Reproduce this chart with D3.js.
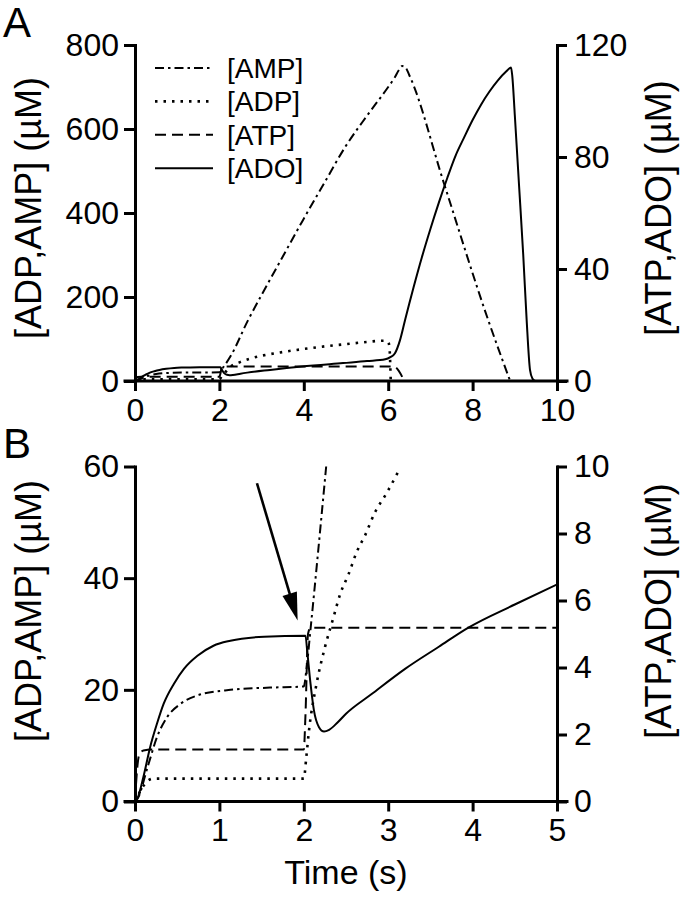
<!DOCTYPE html>
<html><head><meta charset="utf-8">
<script src="https://cdn.jsdelivr.net/npm/d3@7"></script>
<style>
body{margin:0;background:#fff}
svg{display:block}
text{font-family:"Liberation Sans",Arial,Helvetica,sans-serif;fill:#000}
</style>
</head><body>
<svg id="c" width="690" height="900"></svg>
<script>
// ---------------- DATA ----------------
const panelLabels = ["A", "B"];
const legendLabels = ["[AMP]", "[ADP]", "[ATP]", "[ADO]"];
const leftTitle = "[ADP,AMP] (\u00b5M)";
const rightTitle = "[ATP,ADO] (\u00b5M)";
const xTitle = "Time (s)";

const xTicksA = [0, 2, 4, 6, 8, 10];
const yLeftTicksA = [0, 200, 400, 600, 800];
const yRightTicksA = [0, 40, 80, 120];
const xTicksB = [0, 1, 2, 3, 4, 5];
const yLeftTicksB = [0, 20, 40, 60];
const yRightTicksB = [0, 2, 4, 6, 8, 10];

// Panel A  [time s, concentration uM]
const ampA = [[0,0],[0.15,6],[0.3,12],[0.5,16.5],[0.75,19],[1.1,20],[2.0,20.6],[2.08,31],[2.27,60],[2.68,145],[3.0,205],[3.5,296],[3.98,383],[4.5,474],[4.98,557],[5.5,632],[6.0,700],[6.15,722],[6.25,740],[6.33,750],[6.4,748],[6.5,728],[7.32,471],[8.37,145],[8.89,0]];
const adpA = [[0,0],[0.1,2.8],[0.22,4.1],[2.0,4.1],[2.06,12.5],[2.15,22],[2.25,33],[2.49,45],[2.72,53],[3.04,61],[3.44,68],[3.83,74],[4.22,79],[4.62,84],[4.93,87],[5.4,92],[5.92,96],[6.0,93],[6.03,80],[6.06,0]];
const atpA = [[0,0],[0.03,1.0],[0.06,1.45],[0.15,1.55],[2.0,1.55],[2.03,3],[2.06,5.19],[6.1,5.19],[6.16,5.0],[6.38,0]];
const adoA = [[0,0],[0.1,0.74],[0.18,1.63],[0.26,2.32],[0.34,2.92],[0.46,3.51],[0.58,3.96],[0.74,4.35],[0.93,4.65],[1.13,4.8],[1.53,4.92],[2.02,4.95],[2.04,4.5],[2.08,3.5],[2.12,2.72],[2.18,2.22],[2.24,2.09],[2.32,2.17],[2.5,2.62],[3.2,3.96],[3.95,5.19],[4.93,6.4],[5.5,7.1],[5.93,7.75],[6.05,8.5],[6.16,9.9],[6.28,14.6],[6.4,21.8],[6.5,27.7],[6.6,33.4],[6.8,44.3],[7.0,54.3],[7.2,63.7],[7.4,72.5],[7.6,80.6],[7.8,87.0],[8.0,93.2],[8.2,98.7],[8.4,103.4],[8.6,107.4],[8.8,110.6],[8.91,112],[8.94,109],[9.0,95],[9.1,70],[9.2,45],[9.28,22],[9.36,4],[9.42,0.8],[9.48,0]];

// Panel B
const ampB = [[0,0],[0.03,0.5],[0.15,6.2],[0.26,11.5],[0.38,15.1],[0.54,17.5],[0.74,19],[1.13,20],[1.6,20.4],[2.0,20.6],[2.03,23.5],[2.08,30.9],[2.265,60]];
const adpB = [[0,0],[0.05,1.5],[0.1,2.8],[0.15,3.7],[0.22,4.1],[1.0,4.1],[2.0,4.1],[2.03,8],[2.06,12.5],[2.15,21],[2.25,27.6],[2.35,32.9],[2.43,37.1],[2.53,40.7],[2.63,44.8],[2.73,47.8],[2.84,51.7],[2.98,55.2],[3.12,59.1]];
const atpB = [[0,0],[0.02,0.8],[0.05,1.4],[0.1,1.52],[0.2,1.55],[2.0,1.55],[2.02,2.6],[2.05,5.0],[2.08,5.19],[5,5.19]];
const adoB = [[0,0],[0.03,0.1],[0.1,0.74],[0.18,1.63],[0.26,2.32],[0.34,2.92],[0.46,3.51],[0.58,3.96],[0.74,4.35],[0.93,4.65],[1.13,4.8],[1.53,4.92],[2.02,4.95],[2.04,4.5],[2.08,3.51],[2.12,2.72],[2.18,2.22],[2.24,2.09],[2.3,2.14],[2.4,2.36],[2.5,2.62],[2.8,3.2],[3.2,3.96],[3.6,4.62],[3.95,5.19],[4.5,5.88],[5,6.48]];

// arrow annotation in panel B (data units: time, left-axis uM)
const arrowB = [[1.445, 57], [1.927, 32.4]];

// ---------------- DRAW ----------------
const svg = d3.select("#c");
const styles = {
  amp: {dash: "9,4,2.5,4", w: 2},
  adp: {dash: "2.5,6", w: 2.6},
  atp: {dash: "11,6", w: 2},
  ado: {dash: null, w: 2}
};

function panel(cfg) {
  const g = svg.append("g");
  const x = d3.scaleLinear().domain(cfg.xDom).range([135, 557]);
  const yL = d3.scaleLinear().domain(cfg.yLDom).range([cfg.y0, cfg.y1]);
  const yR = d3.scaleLinear().domain(cfg.yRDom).range([cfg.y0, cfg.y1]);
  const clipId = "clip" + cfg.label;
  svg.append("clipPath").attr("id", clipId).append("rect")
    .attr("x", 135).attr("y", cfg.y1 - 1).attr("width", 422).attr("height", cfg.y0 - cfg.y1 + 1);

  const series = [
    {d: cfg.amp, s: styles.amp, y: yL},
    {d: cfg.adp, s: styles.adp, y: yL},
    {d: cfg.atp, s: styles.atp, y: yR},
    {d: cfg.ado, s: styles.ado, y: yR}
  ];
  const lg = g.append("g").attr("clip-path", `url(#${clipId})`);
  series.forEach(se => {
    const line = d3.line().x(d => x(d[0])).y(d => se.y(d[1])).curve(d3.curveMonotoneX);
    lg.append("path").attr("d", line(se.d)).attr("fill", "none").attr("stroke", "#000")
      .attr("stroke-width", se.s.w).attr("stroke-dasharray", se.s.dash)
      .attr("stroke-linejoin", "round");
  });

  // axes
  const ax = g.append("g").attr("transform", `translate(0,${cfg.y0})`)
    .call(d3.axisBottom(x).tickValues(cfg.xTicks).tickSize(10).tickPadding(7).tickSizeOuter(0).tickFormat(d3.format("d")));
  const al = g.append("g").attr("transform", `translate(135,0)`)
    .call(d3.axisLeft(yL).tickValues(cfg.yLTicks).tickSize(11).tickPadding(5).tickSizeOuter(0).tickFormat(d3.format("d")));
  const ar = g.append("g").attr("transform", `translate(557,0)`)
    .call(d3.axisRight(yR).tickValues(cfg.yRTicks).tickSize(10).tickPadding(7).tickSizeOuter(0).tickFormat(d3.format("d")));
  [ax, al, ar].forEach(a => {
    a.select(".domain").attr("stroke-width", 3).attr("stroke-linecap", "square");
    a.selectAll(".tick line").attr("stroke-width", 3);
    a.selectAll("text").attr("font-size", 32).attr("font-family", null);
    a.attr("font-family", null);
  });
  ax.select(".domain").attr("d", `M125,0H567`);

  // titles
  g.append("text").attr("transform", `translate(41,${cfg.titleY}) rotate(-90)`)
    .attr("text-anchor", "middle").attr("font-size", 36).text(leftTitle);
  g.append("text").attr("transform", `translate(671,${cfg.titleY}) rotate(-90)`)
    .attr("text-anchor", "middle").attr("font-size", 36).text(rightTitle);
  g.append("text").attr("x", 3).attr("y", cfg.labelY).attr("font-size", 42).text(cfg.label);
  return {g, x, yL, yR};
}

const A = panel({label: panelLabels[0], labelY: 37, xDom: [0, 10], yLDom: [0, 800], yRDom: [0, 120], y0: 381, y1: 45,
  xTicks: xTicksA, yLTicks: yLeftTicksA, yRTicks: yRightTicksA, amp: ampA, adp: adpA, atp: atpA, ado: adoA, titleY: 208});
const B = panel({label: panelLabels[1], labelY: 458, xDom: [0, 5], yLDom: [0, 60], yRDom: [0, 10], y0: 801.5, y1: 466.5,
  xTicks: xTicksB, yLTicks: yLeftTicksB, yRTicks: yRightTicksB, amp: ampB, adp: adpB, atp: atpB, ado: adoB, titleY: 611});

// x title
svg.append("text").attr("x", 346).attr("y", 884).attr("text-anchor", "middle").attr("font-size", 34).text(xTitle);

// legend (panel A)
const keys = ["amp", "adp", "atp", "ado"];
const leg = svg.append("g");
legendLabels.forEach((lab, i) => {
  const yy = 68 + i * 33.4;
  leg.append("line").attr("x1", 155).attr("x2", 213).attr("y1", yy).attr("y2", yy)
    .attr("stroke", "#000").attr("stroke-width", styles[keys[i]].w).attr("stroke-dasharray", styles[keys[i]].dash);
  leg.append("text").attr("x", 227).attr("y", yy + 10).attr("font-size", 28).text(lab);
});

// arrow in panel B
const p0 = [B.x(arrowB[0][0]), B.yL(arrowB[0][1])];
const p1 = [B.x(arrowB[1][0]), B.yL(arrowB[1][1])];
const dx = p1[0] - p0[0], dy = p1[1] - p0[1];
const L = Math.hypot(dx, dy), ux = dx / L, uy = dy / L;
const hl = 28, hw = 7.5;
const base = [p1[0] - ux * hl, p1[1] - uy * hl];
svg.append("line").attr("x1", p0[0]).attr("y1", p0[1]).attr("x2", base[0] + ux * 2).attr("y2", base[1] + uy * 2)
  .attr("stroke", "#000").attr("stroke-width", 2.6);
svg.append("path").attr("d", d3.line()([p1, [base[0] - uy * hw, base[1] + ux * hw], [base[0] + uy * hw, base[1] - ux * hw]]) + "Z")
  .attr("fill", "#000");
</script>
</body></html>
